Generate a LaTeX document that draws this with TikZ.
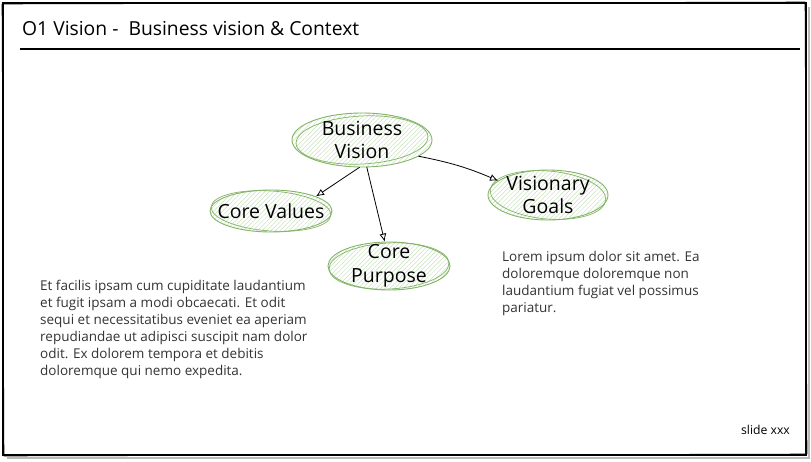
\documentclass[tikz,border=0pt]{standalone}
\usepackage{fontspec}
\setmainfont{Open Sans}
\usetikzlibrary{arrows.meta,patterns.meta,shapes.geometric}
\definecolor{sk}{HTML}{82B366}
\definecolor{hatch}{HTML}{C8E2BC}
\definecolor{bodytext}{HTML}{333333}
\tikzset{
  bubble/.style={ellipse, draw=sk, line width=0.9pt, inner sep=0pt,
    pattern={Lines[angle=45,distance=3.2pt,line width=0.5pt]}, pattern color=hatch},
  bubbletext/.style={align=center, text=black, inner sep=0pt, font=\fontsize{19.5}{23.5}\selectfont},
  sketch/.style={draw=sk, line width=0.7pt},
  arr/.style={-{Latex[open,length=8pt,width=7pt]}, line width=0.8pt, black},
  bodybox/.style={anchor=north west, inner sep=0pt, align=left, text=bodytext,
    font=\fontsize{13.5}{17}\selectfont},
}
\begin{document}
\begin{tikzpicture}[x=1pt,y=-1pt]
\useasboundingbox (0,0) rectangle (811,461);
% frame
\draw[gray!55, line width=2pt] (7,458) -- (809,458) -- (809,7);
\draw[black, line width=1.2pt] (3,3) rectangle (806,455);
\draw[black, line width=0.6pt] (2,4) -- (805,2) -- (807,454) -- (4,456) -- cycle;
% title
\node[anchor=west, inner sep=0pt, font=\fontsize{19.3}{22}\selectfont] (title) at (22,29) {O1 Vision -\ \ Business vision \& Context};
\coordinate (tl1) at (20,49);
\coordinate (tl2) at (800,49);
\draw[black, line width=1.1pt] (tl1) -- (tl2);
% bubbles
\node[bubble, minimum width=140pt, minimum height=54pt] (bv) at (362,140) {};
\draw[sketch, rotate around={3:(bv.center)}] (bv.center) ellipse [x radius=66, y radius=24];
\node[bubbletext] (bvt) at (bv.center) {Business\\Vision};
\node[bubble, minimum width=122pt, minimum height=42pt] (cv) at (271,211) {};
\draw[sketch, rotate around={-4:(cv.center)}] (cv.center) ellipse [x radius=60, y radius=20];
\node[bubbletext] (cvt) at (cv.center) {Core Values};
\node[bubble, minimum width=122pt, minimum height=48pt] (cp) at (389,266) {};
\draw[sketch, rotate around={3:(cp.center)}] (cp.center) ellipse [x radius=60, y radius=23];
\node[bubbletext] (cpt) at (cp.center) {Core\\Purpose};
\node[bubble, minimum width=120pt, minimum height=50pt] (vg) at (548,195) {};
\draw[sketch, rotate around={-5:(vg.center)}] (vg.center) ellipse [x radius=58, y radius=24];
\node[bubbletext] (vgt) at (vg.center) {Visionary\\Goals};
% connectors
\draw[arr] (bv.265) -- (cv.18);
\draw[arr] (bv.-80) -- (cp.100);
\draw[arr] (bv.-16) to[bend left=6] (vg.164);
% texts
\node[bodybox] (lefttext) at (40,280) {Et facilis ipsam cum cupiditate laudantium\\et fugit ipsam a modi obcaecati. Et odit\\sequi et necessitatibus eveniet ea aperiam\\repudiandae ut adipisci suscipit nam dolor\\odit. Ex dolorem tempora et debitis\\doloremque qui nemo expedita.};
\node[bodybox] (righttext) at (502,251) {Lorem ipsum dolor sit amet. Ea\\doloremque doloremque non\\laudantium fugiat vel possimus\\pariatur.};
\node[anchor=east, inner sep=0pt, text=black, font=\fontsize{12.2}{14}\selectfont] (slide) at (790,430) {slide xxx};
\end{tikzpicture}
\end{document}
